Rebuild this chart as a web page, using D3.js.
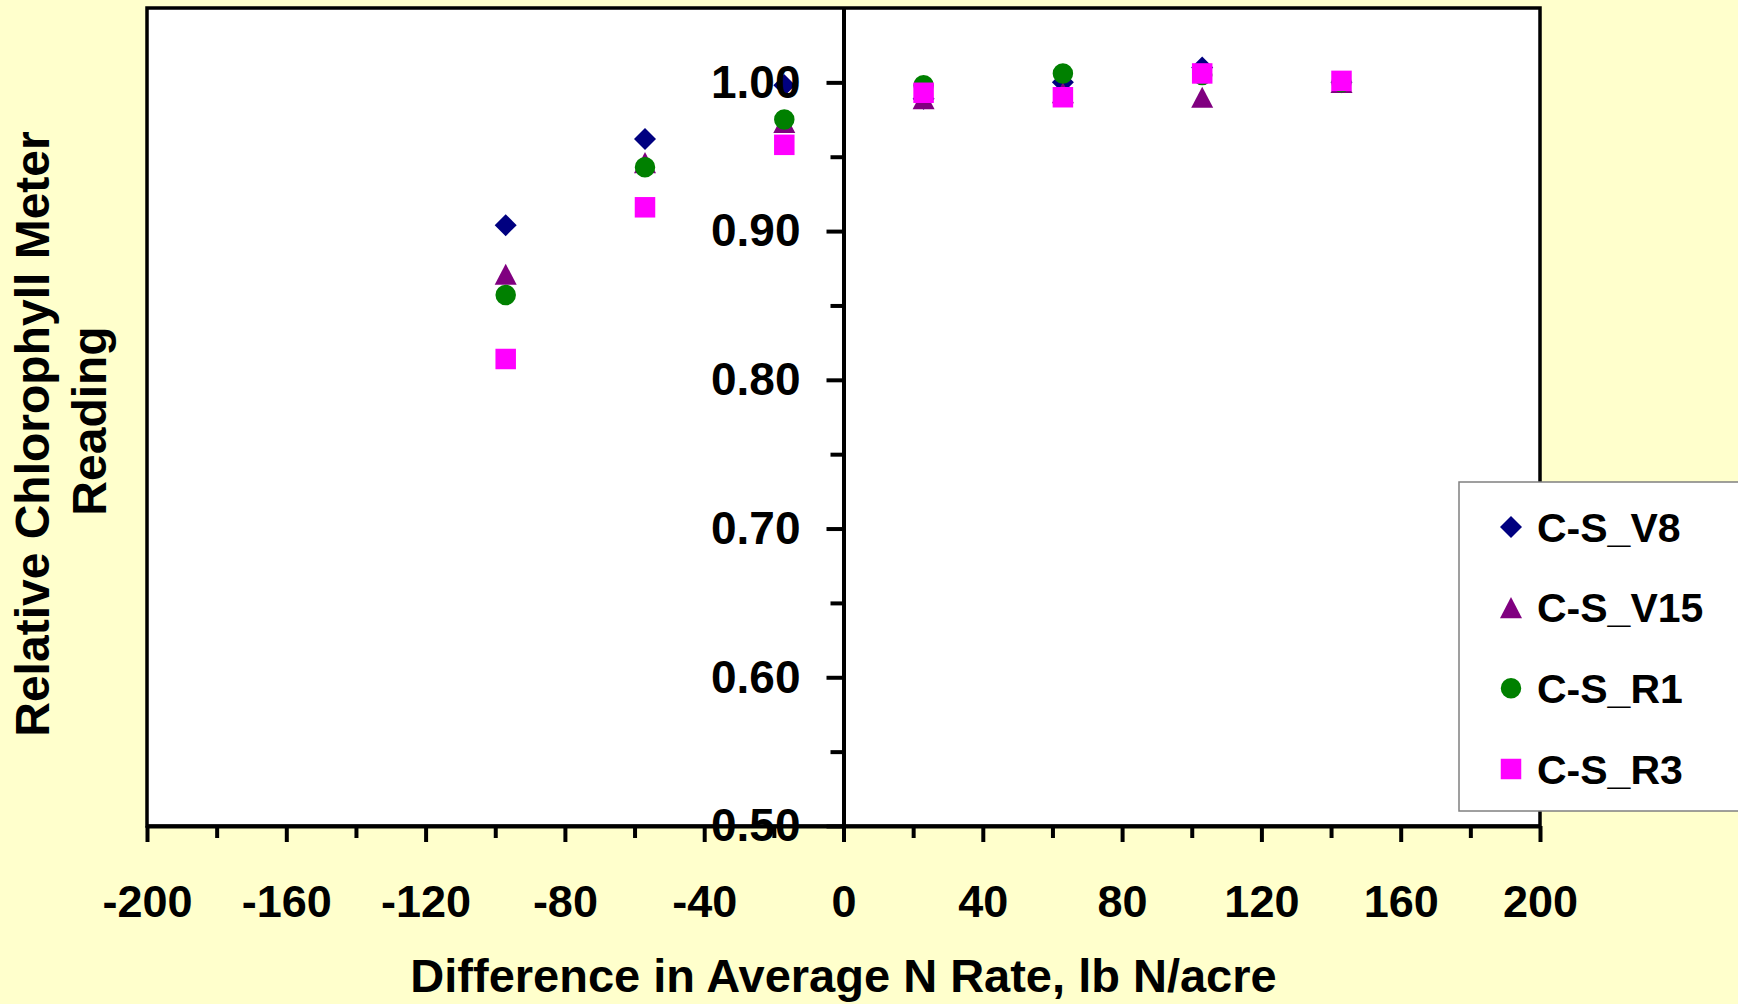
<!DOCTYPE html>
<html>
<head>
<meta charset="utf-8">
<script src="https://cdn.jsdelivr.net/npm/d3@7"></script>
<style>
  html, body { margin: 0; padding: 0; background: #FFFFCC; overflow: hidden; }
  svg { display: block; }
  text { font-family: "Liberation Sans", Arial, sans-serif; font-weight: bold; fill: #000; }
</style>
</head>
<body>
<svg id="chart" width="1738" height="1004"></svg>
<script>
// ---- Data ----
const xValues = [-97, -57, -17, 23, 63, 103, 143];
const seriesNames = ["C-S_V8", "C-S_V15", "C-S_R1", "C-S_R3"];
const valuesV8  = [0.904, 0.962, 0.998, 0.989, 1.000, 1.010, 1.000];
const valuesV15 = [0.871, 0.946, 0.973, 0.989, 0.993, 0.990, 1.000];
const valuesR1  = [0.857, 0.943, 0.975, 0.998, 1.006, 1.005, 1.000];
const valuesR3  = [0.814, 0.916, 0.958, 0.993, 0.990, 1.006, 1.001];
const xMajorTicks = [-200, -160, -120, -80, -40, 0, 40, 80, 120, 160, 200];
const xMinorTicks = [-180, -140, -100, -60, -20, 20, 60, 100, 140, 180];
const yMajorTicks = [0.5, 0.6, 0.7, 0.8, 0.9, 1.0];
const yMinorTicks = [0.55, 0.65, 0.75, 0.85, 0.95];
const xTitle = "Difference in Average N Rate, lb N/acre";
const yTitleLines = ["Relative Chlorophyll Meter", "Reading"];

// ---- Layout ----
const plot = { left: 147, right: 1540, top: 8, bottom: 826 };
const svg = d3.select("#chart");

const x = d3.scaleLinear().domain([-200, 200]).range([plot.left, plot.right]);
const y = d3.scaleLinear().domain([0.5, 1.05]).range([plot.bottom, plot.top]);

// background
svg.append("rect").attr("x", 0).attr("y", 0).attr("width", 1738).attr("height", 1004).attr("fill", "#FFFFCC");

// plot area
svg.append("rect")
  .attr("x", plot.left).attr("y", plot.top)
  .attr("width", plot.right - plot.left).attr("height", plot.bottom - plot.top)
  .attr("fill", "#FFFFFF").attr("stroke", "#000").attr("stroke-width", 3.5);

// symbol types (size = full width in px)
const symDiamond = { draw(ctx, s) { const r = s / 2; ctx.moveTo(0, -r); ctx.lineTo(r, 0); ctx.lineTo(0, r); ctx.lineTo(-r, 0); ctx.closePath(); } };
const symTriangle = { draw(ctx, s) { const w = s / 2, h = s * 0.96 / 2; ctx.moveTo(0, -h); ctx.lineTo(w, h); ctx.lineTo(-w, h); ctx.closePath(); } };
const symCircle = { draw(ctx, s) { const r = s / 2; ctx.moveTo(r, 0); ctx.arc(0, 0, r, 0, 2 * Math.PI); } };
const symSquare = { draw(ctx, s) { ctx.rect(-s / 2, -s / 2, s, s); } };

const series = [
  { name: seriesNames[0], values: valuesV8,  color: "#000080", type: symDiamond,  size: 22 },
  { name: seriesNames[1], values: valuesV15, color: "#800080", type: symTriangle, size: 22 },
  { name: seriesNames[2], values: valuesR1,  color: "#008000", type: symCircle,   size: 20.5 },
  { name: seriesNames[3], values: valuesR3,  color: "#FF00FF", type: symSquare,   size: 20.5 }
];

// markers
const gMarks = svg.append("g");
series.forEach(s => {
  const sym = d3.symbol().type(s.type).size(s.size);
  gMarks.append("g").selectAll("path")
    .data(xValues.map((xv, i) => ({ x: xv, y: s.values[i] })))
    .join("path")
    .attr("transform", d => `translate(${x(d.x)},${y(d.y)})`)
    .attr("d", sym())
    .attr("fill", s.color);
});

// x axis (minor)
svg.append("g")
  .attr("transform", `translate(0,${plot.bottom})`)
  .call(d3.axisBottom(x).tickValues(xMinorTicks).tickSize(12).tickSizeOuter(0).tickFormat(""))
  .call(g => g.select(".domain").remove())
  .call(g => g.selectAll(".tick line").attr("stroke", "#000").attr("stroke-width", 4));

// x axis (major)
svg.append("g")
  .attr("transform", `translate(0,${plot.bottom})`)
  .call(d3.axisBottom(x).tickValues(xMajorTicks).tickSize(16).tickSizeOuter(0).tickFormat(d => String(d)))
  .call(g => g.select(".domain").attr("stroke", "#000").attr("stroke-width", 4))
  .call(g => g.selectAll(".tick line").attr("stroke", "#000").attr("stroke-width", 4))
  .call(g => g.selectAll(".tick text")
    .attr("y", 75).attr("dy", "0.35em")
    .attr("font-size", 45).attr("font-family", "'Liberation Sans', Arial, sans-serif")
    .attr("font-weight", "bold").attr("fill", "#000"));

// y axis (minor)
svg.append("g")
  .attr("transform", `translate(${x(0)},0)`)
  .call(d3.axisLeft(y).tickValues(yMinorTicks).tickSize(13).tickSizeOuter(0).tickFormat(""))
  .call(g => g.select(".domain").remove())
  .call(g => g.selectAll(".tick line").attr("stroke", "#000").attr("stroke-width", 4));

// y axis (major)
svg.append("g")
  .attr("transform", `translate(${x(0)},0)`)
  .call(d3.axisLeft(y).tickValues(yMajorTicks).tickSize(17).tickSizeOuter(0).tickPadding(26).tickFormat(d => d.toFixed(2)))
  .call(g => g.select(".domain").attr("stroke", "#000").attr("stroke-width", 4))
  .call(g => g.selectAll(".tick line").attr("stroke", "#000").attr("stroke-width", 4))
  .call(g => g.selectAll(".tick text")
    .attr("font-size", 46).attr("font-family", "'Liberation Sans', Arial, sans-serif")
    .attr("font-weight", "bold").attr("fill", "#000"));

// x axis title
svg.append("text")
  .attr("x", x(0)).attr("y", 992)
  .attr("text-anchor", "middle")
  .attr("font-size", 47)
  .text(xTitle);

// y axis title
const yT = svg.append("g").attr("transform", "rotate(-90)");
yT.append("text").attr("x", -434).attr("y", 49).attr("text-anchor", "middle").attr("font-size", 48).text(yTitleLines[0]);
yT.append("text").attr("x", -421).attr("y", 106).attr("text-anchor", "middle").attr("font-size", 48).text(yTitleLines[1]);

// legend
const legend = svg.append("g");
legend.append("rect")
  .attr("x", 1459).attr("y", 482).attr("width", 300).attr("height", 329)
  .attr("fill", "#FFFFFF").attr("stroke", "#808080").attr("stroke-width", 1.5);
const legendY = d3.scalePoint().domain(seriesNames).range([527, 769]);
series.forEach(s => {
  const sym = d3.symbol().type(s.type).size(s.size);
  legend.append("path")
    .attr("transform", `translate(1511,${legendY(s.name)})`)
    .attr("d", sym()).attr("fill", s.color);
  legend.append("text")
    .attr("x", 1537).attr("y", legendY(s.name)).attr("dy", "0.36em")
    .attr("font-size", 41).text(s.name);
});
</script>
</body>
</html>
